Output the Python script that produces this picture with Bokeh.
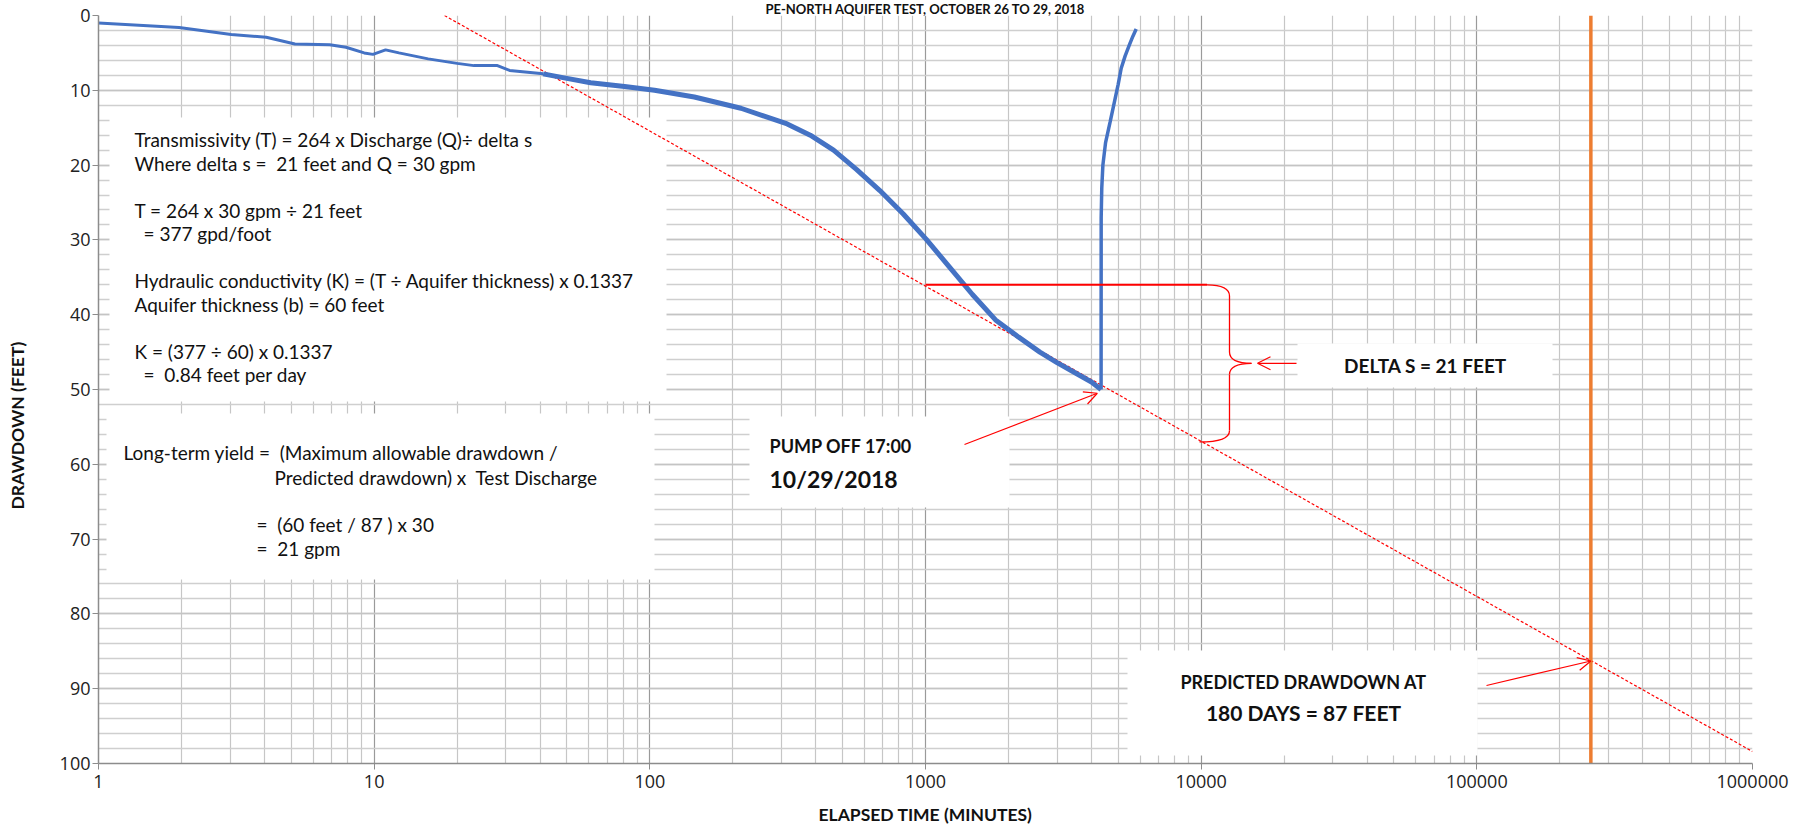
import math
from bokeh.plotting import figure
from bokeh.models import Range1d, Label, Arrow, OpenHead, FixedTicker, BasicTickFormatter
from bokeh.embed import file_html
from bokeh.resources import INLINE

# ---------------- data ----------------
# pumping phase (elapsed minutes, drawdown feet)
t_early = [1, 1.96, 3.03, 4.06, 5.16, 6.9, 7.9, 9.2, 9.9, 11, 12.3, 15.7, 20, 23, 28, 31, 41]
dd_early = [1.0, 1.6, 2.55, 2.9, 3.8, 3.9, 4.25, 5.0, 5.2, 4.6, 5.0, 5.8, 6.4, 6.7, 6.7, 7.35, 7.8]
t_late = [41, 50, 61, 81, 104, 145, 214, 315, 382, 464, 563, 683, 829, 1005, 1220, 1480,
          1795, 2178, 2600, 3000, 3500, 4000, 4335]
dd_late = [7.8, 8.4, 9.0, 9.5, 10.0, 10.9, 12.4, 14.5, 16.0, 18.0, 20.6, 23.4, 26.5, 29.9, 33.6, 37.3,
           40.7, 43.0, 45.0, 46.4, 47.8, 49.0, 50.0]
# recovery after pump off
t_recovery = [4335, 4338, 4360, 4400, 4500, 4677, 4848, 5000, 5128, 5300, 5495, 5650, 5812]
dd_recovery = [50.0, 27.0, 23.0, 20.0, 17.0, 14.2, 11.5, 9.2, 7.05, 5.4, 3.9, 2.8, 1.8]
# straight-line (Cooper-Jacob) fit
trend_t = [18, 1000000]
trend_dd = [0, 98.4]
# delta s construction
delta_t = [1000, 10500]
delta_top = 36
delta_bottom = 57
# 180 days in minutes
predicted_t = 259200
predicted_dd = 86.3
pump_off_t = 4200
pump_off_dd = 50.5

x_ticks = [1, 10, 100, 1000, 10000, 100000, 1000000]
x_minor = [m * 10 ** k for k in range(6) for m in range(2, 10)]
y_ticks = list(range(0, 101, 10))
y_minor = list(range(0, 101, 2))

# ---------------- layout helpers (screen px of the 1818x833 page) ----------------
FX0, FX1 = 99.0, 1753.0   # page x of t=1 and t=1e6
FY0, FY1 = 14.0, 762.0    # page y of 0 ft and 100 ft
DEC = (FX1 - FX0) / 6.0
PFT = (FY1 - FY0) / 100.0


def px2x(px):
    return 10 ** ((px - FX0) / DEC)


def py2y(py):
    return (py - FY0) / PFT


FW, FH = int(FX1 - FX0), int(FY1 - FY0)
BL, BT = 98, 13
W, H = 1802, 825
p = figure(width=W, height=H, x_axis_type="log",
           x_range=Range1d(1, 1000000), y_range=Range1d(100, 0),
           frame_width=FW, frame_height=FH,
           min_border_left=BL, min_border_top=BT,
           min_border_right=W - BL - FW, min_border_bottom=H - BT - FH,
           output_backend="svg", toolbar_location=None,
           background_fill_color="white", border_fill_color="white")
p.outline_line_color = None

# title: in the source it sits at the very top edge; kept small so it fits the thin top border
p.title.text = "PE-NORTH AQUIFER TEST, OCTOBER 26 TO 29, 2018"
p.title.align = "center"
p.title.text_font = "Lato"
p.title.text_font_size = "13px"
p.title.text_font_style = "bold"
p.title.text_color = "#111111"
p.title.standoff = -3
p.title.offset = 0

# axes
p.xaxis.ticker = FixedTicker(ticks=x_ticks, minor_ticks=x_minor)
p.yaxis.ticker = FixedTicker(ticks=y_ticks, minor_ticks=y_minor)
p.xaxis.formatter = BasicTickFormatter(use_scientific=False)
for ax in (p.xaxis, p.yaxis):
    ax.axis_line_color = "#8c8c8c"
    ax.axis_line_width = 1.5
    ax.major_tick_line_color = "#8c8c8c"
    ax.major_tick_in = 0
    ax.major_tick_out = 6
    ax.minor_tick_line_color = None
    ax.major_label_text_font = "Open Sans"
    ax.major_label_text_color = "#222222"
    ax.axis_label_text_font = "Lato"
    ax.axis_label_text_font_style = "bold"
    ax.axis_label_text_font_size = "17.5px"
    ax.axis_label_text_color = "#111111"
p.xaxis.major_label_text_font_size = "18px"
p.yaxis.major_label_text_font_size = "18px"
p.yaxis.major_label_standoff = 2
p.xaxis.major_label_standoff = 5
p.xaxis.axis_label = "ELAPSED TIME (MINUTES)"
p.xaxis.axis_label_standoff = 13
# trailing no-break spaces push the visible title a little below the frame centre, as in the source
p.yaxis.axis_label = "DRAWDOWN (FEET)" + "\u00a0" * 17
p.yaxis.axis_label_standoff = 29

# grids
p.xgrid.grid_line_color = "#9a9a9a"
p.xgrid.grid_line_width = 1.2
p.xgrid.minor_grid_line_color = "#c6c6c6"
p.xgrid.minor_grid_line_width = 1.2
p.ygrid.grid_line_color = "#c4c4c4"
p.ygrid.grid_line_width = 1.5
p.ygrid.minor_grid_line_color = "#cfcfcf"
p.ygrid.minor_grid_line_width = 1.5

# white text boxes (below the data lines)
boxes = [(110, 667, 116, 400), (107, 655, 412, 578), (750, 1010, 415, 506),
         (1298, 1553, 342, 386), (1128, 1478, 649, 754)]
p.quad(left=[px2x(b[0]) for b in boxes], right=[px2x(b[1]) for b in boxes],
       top=[py2y(b[2]) for b in boxes], bottom=[py2y(b[3]) for b in boxes],
       fill_color="white", line_color=None)

# data
p.line(trend_t, trend_dd, line_color="#ff0000", line_width=1.2, line_dash="3 2")
p.line([predicted_t, predicted_t], [0, 100], line_color="#ED7D31", line_width=3.5)
p.line(t_early, dd_early, line_color="#4472C4", line_width=3)
p.line(t_late, dd_late, line_color="#4472C4", line_width=5)
p.line(t_recovery, dd_recovery, line_color="#4472C4", line_width=3.5)

# delta s construction: horizontal line + curly brace
p.line(delta_t, [delta_top, delta_top], line_color="#ff0000", line_width=2)
xb = px2x(1230)
xt = px2x(1252)
xe = px2x(1200)
mid = (delta_top + delta_bottom) / 2.0
c = 1.5
p.quadratic(x0=[delta_t[1], xb, xt, xb], y0=[delta_top, mid - c, mid, delta_bottom - c],
            x1=[xb, xt, xb, xe], y1=[delta_top + c, mid, mid + c, delta_bottom],
            cx=[xb, xb, xb, xb], cy=[delta_top, mid, mid, delta_bottom],
            line_color="#ff0000", line_width=1.3)
p.segment(x0=[xb, xb], y0=[delta_top + c, mid + c], x1=[xb, xb], y1=[mid - c, delta_bottom - c],
          line_color="#ff0000", line_width=1.3)

# arrows
for (x0, y0, x1, y1) in [(px2x(965), py2y(443), pump_off_t, pump_off_dd),
                         (px2x(1297), mid, px2x(1258), mid),
                         (px2x(1487), py2y(684), predicted_t, predicted_dd)]:
    p.add_layout(Arrow(end=OpenHead(size=13, line_color="#ff0000", line_width=1.2),
                       x_start=x0, y_start=y0, x_end=x1, y_end=y1,
                       line_color="#ff0000", line_width=1.2))


def lab(px, py, text, size="19px", bold=False, align="left"):
    p.add_layout(Label(x=px2x(px), y=py2y(py), text=text, text_font="Lato",
                       text_font_size=size, text_font_style="bold" if bold else "normal",
                       text_align=align, text_baseline="middle", text_color="#111111"))


NB = "\u00a0"
box1 = [(0, "Transmissivity (T) = 264 x Discharge (Q)\u00f7 delta s"),
        (0, "Where delta s =" + NB + " 21 feet and Q = 30 gpm"),
        (0, ""),
        (0, "T = 264 x 30 gpm \u00f7 21 feet"),
        (9, "= 377 gpd/foot"),
        (0, ""),
        (0, "Hydraulic conductivity (K) = (T \u00f7 Aquifer thickness) x 0.1337"),
        (0, "Aquifer thickness (b) = 60 feet"),
        (0, ""),
        (0, "K = (377 \u00f7 60) x 0.1337"),
        (9, "=" + NB + " 0.84 feet per day")]
for i, (dx, line) in enumerate(box1):
    if line:
        lab(135 + dx, 138 + i * 23.5, line)

lab(124, 451, "Long-term yield =" + NB + " (Maximum allowable drawdown /")
lab(275, 476, "Predicted drawdown) x" + NB + " Test Discharge")
lab(257, 523, "=" + NB + " (60 feet / 87 ) x 30")
lab(257, 547, "=" + NB + " 21 gpm")

lab(770, 444, "PUMP OFF 17:00", size="18px", bold=True)
lab(770, 477, "10/29/2018", size="23px", bold=True)
lab(1426, 364, "DELTA S = 21 FEET", size="19px", bold=True, align="center")
lab(1304, 680, "PREDICTED DRAWDOWN AT", size="18px", bold=True, align="center")
lab(1304, 711, "180 DAYS = 87 FEET", size="21px", bold=True, align="center")

open("out.html", "w").write(file_html(p, INLINE))
